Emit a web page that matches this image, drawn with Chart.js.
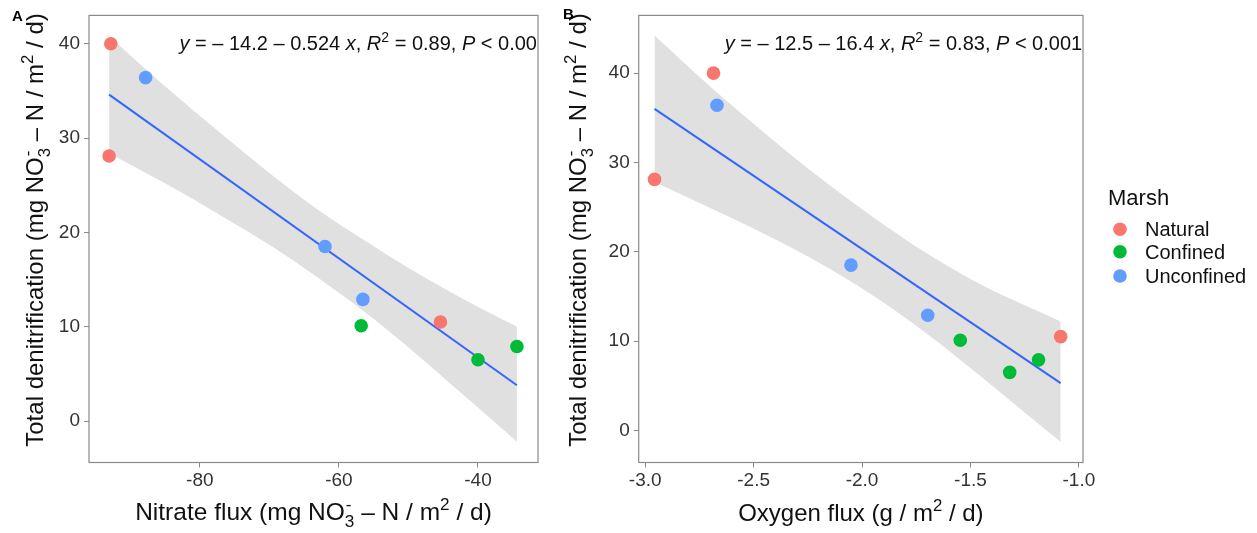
<!DOCTYPE html>
<html><head><meta charset="utf-8">
<script src="https://cdn.jsdelivr.net/npm/chart.js@4.4.1/dist/chart.umd.min.js"></script>
<style>
html,body{margin:0;padding:0;background:#fff;}
#wrap{position:relative;width:1257px;height:533px;overflow:hidden;background:#fff;}
canvas{position:absolute;top:0;}
#cA{left:0;} #cB{left:560px;}
</style></head><body>
<div id="wrap"><canvas id="cA" width="560" height="533"></canvas><canvas id="cB" width="697" height="533"></canvas></div>
<script>
// ---------- data ----------
const marshGroups = ['Natural', 'Confined', 'Unconfined'];
const groupColors = ['#F8766D', '#00BA38', '#619CFF'];

// Total denitrification (mg NO3- - N / m2 / d), same samples in both panels
const denitNatural    = [40.0, 28.1, 10.5];
const denitConfined   = [10.1, 6.5, 7.9];
const denitUnconfined = [36.4, 18.5, 12.9];

// Panel A: nitrate flux
const nitrateNatural    = [-92.8, -93.05, -45.4];
const nitrateConfined   = [-56.8, -40.0, -34.4];
const nitrateUnconfined = [-87.8, -62.0, -56.55];

// Panel B: oxygen flux
const oxygenNatural    = [-2.685, -2.957, -1.084];
const oxygenConfined   = [-1.547, -1.319, -1.186];
const oxygenUnconfined = [-2.669, -2.051, -1.697];

// fitted lines
const fitXA = [-93.05, -34.4];
const fitYA = [34.6, 3.8];
const fitXB = [-2.957, -1.084];
const fitYB = [36.0, 5.3];

// confidence bands
const bandXA     = [-93.05, -85, -77, -70, -63, -56, -49, -42, -34.4];
const bandUpperA = [40.8, 35.5, 30.5, 26.3, 22.4, 19.0, 15.8, 12.9, 10.0];
const bandLowerA = [28.4, 25.2, 21.8, 18.7, 15.2, 11.4, 7.2, 2.7, -2.2];
const bandXB     = [-2.957, -2.7, -2.45, -2.2, -1.95, -1.7, -1.45, -1.25, -1.084];
const bandUpperB = [44.2, 38.5, 33.3, 28.4, 23.9, 19.8, 16.3, 14.0, 12.2];
const bandLowerB = [27.8, 24.9, 22.0, 18.8, 15.1, 10.8, 6.0, 2.0, -1.3];

// ticks
const xTicksA = [-80, -60, -40];
const xTickLabelsA = ['-80', '-60', '-40'];
const xTicksB = [-3.0, -2.5, -2.0, -1.5, -1.0];
const xTickLabelsB = ['-3.0', '-2.5', '-2.0', '-1.5', '-1.0'];
const yTicksA = [0, 10, 20, 30, 40];
const yTickLabelsA = ['0', '10', '20', '30', '40'];
const yTicksB = [0, 10, 20, 30, 40];
const yTickLabelsB = ['0', '10', '20', '30', '40'];

// ---------- helpers ----------
const FONT = '"Liberation Sans", Arial, sans-serif';
function zip(xs, ys) { return xs.map((x, i) => ({ x: x, y: ys[i] })); }

function fontOf(p, size) {
  return (p.bold ? 'bold ' : '') + (p.italic ? 'italic ' : '') + size + 'px ' + FONT;
}
function pieceWidth(ctx, p, size) {
  const small = size * 0.7;
  if (p.stack) {
    ctx.font = fontOf({}, small);
    return Math.max(ctx.measureText(p.stack[0]).width, ctx.measureText(p.stack[1]).width);
  }
  ctx.font = fontOf(p, (p.sup || p.sub) ? small : size);
  return ctx.measureText(p.t).width;
}
function drawRich(ctx, pieces, x, y, size, align, color) {
  let total = 0;
  pieces.forEach(p => total += pieceWidth(ctx, p, size));
  let cx = align === 'center' ? x - total / 2 : x;
  ctx.fillStyle = color;
  ctx.textBaseline = 'alphabetic';
  ctx.textAlign = 'left';
  const small = size * 0.7;
  pieces.forEach(p => {
    const w = pieceWidth(ctx, p, size);
    if (p.stack) {
      ctx.font = fontOf({}, small);
      ctx.fillText(p.stack[0], cx, y + size * 0.28);
      ctx.fillText(p.stack[1], cx + 1, y - size * 0.42);
    } else if (p.sup) {
      ctx.font = fontOf(p, small);
      ctx.fillText(p.t, cx, y - size * 0.42);
    } else if (p.sub) {
      ctx.font = fontOf(p, small);
      ctx.fillText(p.t, cx, y + size * 0.28);
    } else {
      ctx.font = fontOf(p, size);
      ctx.fillText(p.t, cx, y);
    }
    cx += w;
  });
}

const yTitlePieces = [
  { t: 'Total denitrification (mg NO' }, { stack: ['3', '-'] },
  { t: ' \u2013 N / m' }, { t: '2', sup: true }, { t: ' / d)' }
];
const xTitlePiecesA = [
  { t: 'Nitrate flux (mg NO' }, { stack: ['3', '-'] },
  { t: ' \u2013 N / m' }, { t: '2', sup: true }, { t: ' / d)' }
];
const xTitlePiecesB = [
  { t: 'Oxygen flux (g / m' }, { t: '2', sup: true }, { t: ' / d)' }
];
const eqPiecesA = [
  { t: 'y', italic: true }, { t: ' = \u2013 14.2 \u2013 0.524 ' }, { t: 'x', italic: true },
  { t: ', ' }, { t: 'R', italic: true }, { t: '2', sup: true }, { t: ' = 0.89, ' },
  { t: 'P', italic: true }, { t: ' < 0.001' }
];
const eqPiecesB = [
  { t: 'y', italic: true }, { t: ' = \u2013 12.5 \u2013 16.4 ' }, { t: 'x', italic: true },
  { t: ', ' }, { t: 'R', italic: true }, { t: '2', sup: true }, { t: ' = 0.83, ' },
  { t: 'P', italic: true }, { t: ' < 0.001' }
];

function makeDatasets(xN, xC, xU, fx, fy, bx, bu, bl) {
  const xs = [xN, xC, xU];
  const ys = [denitNatural, denitConfined, denitUnconfined];
  const ds = marshGroups.map((g, i) => ({
    label: g,
    data: zip(xs[i], ys[i]),
    backgroundColor: groupColors[i],
    borderWidth: 0,
    pointRadius: 6.8,
    pointHoverRadius: 6.8
  }));
  ds.push({
    label: 'fit', data: zip(fx, fy), showLine: true, borderColor: '#3366FF',
    borderWidth: 2, pointRadius: 0, fill: false
  });
  ds.push({
    label: 'upper', data: zip(bx, bu), showLine: true, borderWidth: 0,
    borderColor: 'rgba(0,0,0,0)', pointRadius: 0, cubicInterpolationMode: 'monotone',
    fill: { target: 5 }, backgroundColor: '#E0E0E0'
  });
  ds.push({
    label: 'lower', data: zip(bx, bl), showLine: true, borderWidth: 0,
    borderColor: 'rgba(0,0,0,0)', pointRadius: 0, cubicInterpolationMode: 'monotone',
    fill: false
  });
  return ds;
}

function scaleOpts(min, max, ticks, labels, isX, fitSize) {
  return {
    type: 'linear', min: min, max: max,
    afterBuildTicks: s => { s.ticks = ticks.map(v => ({ value: v })); },
    afterFit: s => { if (isX) s.height = fitSize; else s.width = fitSize; },
    ticks: {
      color: '#333', font: { family: FONT, size: 19 }, padding: isX ? 2 : 4,
      callback: (v, i) => labels[i], maxRotation: 0, autoSkip: false
    },
    grid: { display: true, drawOnChartArea: false, drawTicks: true, tickLength: 5, color: '#8a8a8a', lineWidth: 1 },
    border: { display: false },
    title: { display: false }
  };
}

function panelPlugin(cfg) {
  return {
    id: 'panel' + cfg.letter,
    afterDraw(chart) {
      const ctx = chart.ctx, a = chart.chartArea;
      ctx.save();
      // equation (clipped to panel)
      ctx.save();
      ctx.beginPath(); ctx.rect(a.left, a.top, a.right - a.left, a.bottom - a.top); ctx.clip();
      drawRich(ctx, cfg.eq, cfg.eqX, cfg.eqY, 20, 'left', '#111');
      ctx.restore();
      // border
      ctx.strokeStyle = '#8a8a8a'; ctx.lineWidth = 1.2;
      ctx.strokeRect(a.left, a.top, a.right - a.left, a.bottom - a.top);
      // x title
      drawRich(ctx, cfg.xTitle, (a.left + a.right) / 2, cfg.xTitleY, cfg.xTitleSize, 'center', '#111');
      // y title
      ctx.save();
      ctx.translate(cfg.yTitleX, cfg.yTitleCY);
      ctx.rotate(-Math.PI / 2);
      drawRich(ctx, yTitlePieces, 0, 0, 24, 'center', '#111');
      ctx.restore();
      // panel letter
      ctx.font = 'bold 15px ' + FONT; ctx.fillStyle = '#000';
      ctx.textAlign = 'left'; ctx.textBaseline = 'alphabetic';
      ctx.fillText(cfg.letter, cfg.letterX, cfg.letterY);
      // legend
      if (cfg.legend) {
        const L = cfg.legend;
        ctx.font = '22px ' + FONT; ctx.fillStyle = '#111';
        ctx.fillText('Marsh', L.x, L.titleY);
        marshGroups.forEach((g, i) => {
          const cy = L.rowsY[i];
          ctx.beginPath(); ctx.fillStyle = groupColors[i];
          ctx.arc(L.x + 12, cy, 6.8, 0, Math.PI * 2); ctx.fill();
          ctx.font = '20px ' + FONT; ctx.fillStyle = '#111';
          ctx.fillText(g, L.x + 37, cy + 7);
        });
      }
      ctx.restore();
    }
  };
}

function makeChart(id, cfg) {
  return new Chart(document.getElementById(id), {
    type: 'scatter',
    data: { datasets: cfg.datasets },
    options: {
      responsive: false, animation: false, devicePixelRatio: 1,
      layout: { padding: cfg.padding },
      plugins: { legend: { display: false }, tooltip: { enabled: false } },
      events: [],
      scales: { x: cfg.x, y: cfg.y }
    },
    plugins: [panelPlugin(cfg)]
  });
}

// Panel A
makeChart('cA', {
  letter: 'A', letterX: 12, letterY: 21,
  datasets: makeDatasets(nitrateNatural, nitrateConfined, nitrateUnconfined, fitXA, fitYA, bandXA, bandUpperA, bandLowerA),
  padding: { left: 0, right: 22, top: 6, bottom: 0 },
  x: scaleOpts(-95.94, -31.37, xTicksA, xTickLabelsA, true, 70.5),
  y: scaleOpts(-4.39, 43.0, yTicksA, yTickLabelsA, false, 89),
  eq: eqPiecesA, eqX: 179.5, eqY: 50,
  xTitle: xTitlePiecesA, xTitleY: 520, xTitleSize: 24.5,
  yTitleX: 43, yTitleCY: 230
});

// Panel B (canvas offset 560)
makeChart('cB', {
  letter: 'B', letterX: 3, letterY: 19,
  datasets: makeDatasets(oxygenNatural, oxygenConfined, oxygenUnconfined, fitXB, fitYB, bandXB, bandUpperB, bandLowerB),
  padding: { left: 0, right: 174, top: 6, bottom: 0 },
  x: scaleOpts(-3.030, -0.981, xTicksB, xTickLabelsB, true, 70.5),
  y: scaleOpts(-3.59, 46.46, yTicksB, yTickLabelsB, false, 78.7),
  eq: eqPiecesB, eqX: 164.7, eqY: 50,
  xTitle: xTitlePiecesB, xTitleY: 521, xTitleSize: 24,
  yTitleX: 25.8, yTitleCY: 230,
  legend: { x: 548, titleY: 205, rowsY: [229.3, 251.7, 276] }
});
</script>
</body></html>
